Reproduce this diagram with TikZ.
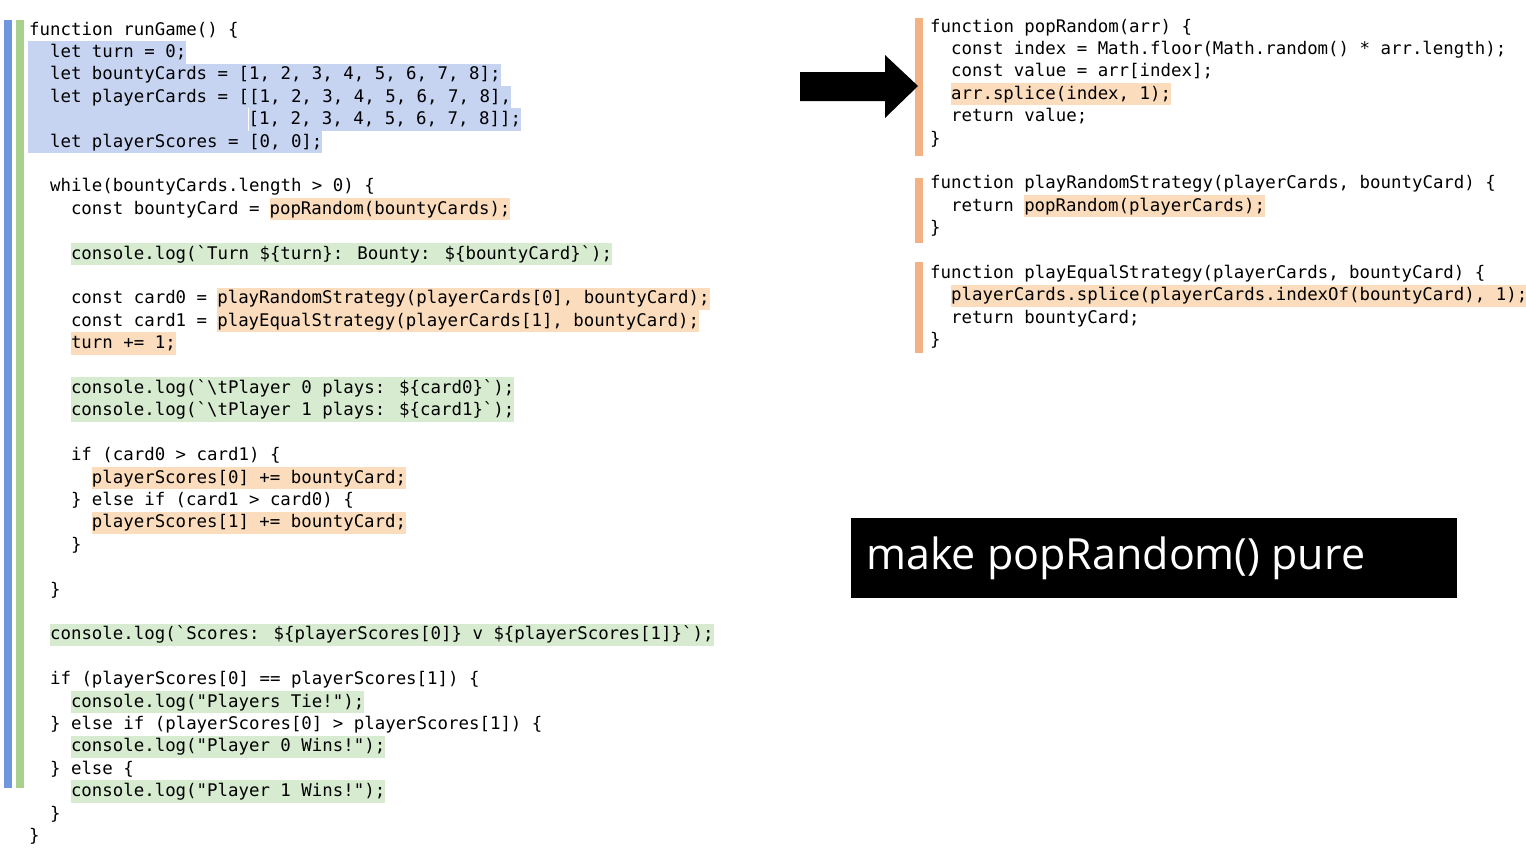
\documentclass[tikz,border=0pt]{standalone}
\usepackage{fontspec}
\newfontfamily\codefont{DejaVu Sans Mono}
\newfontfamily\capfont{Open Sans}
\definecolor{hlblue}{HTML}{C6D4F2}
\definecolor{hlorange}{HTML}{FBDDBE}
\definecolor{hlgreen}{HTML}{D7EBD0}
\definecolor{barblue}{HTML}{6F97E0}
\definecolor{bargreen}{HTML}{A9D18E}
\definecolor{barorange}{HTML}{F4B183}
\tikzset{
  code/.style={anchor=west, inner sep=0pt, text height=16.2pt, text depth=6.2pt,
    font=\codefont\fontsize{17.4}{22}\selectfont},
  blue/.style={code, fill=hlblue},
  orange/.style={code, fill=hlorange},
  green/.style={code, fill=hlgreen},
  lines/.style={x=10.45pt, y=-22.4pt}
}
\begin{document}
\begin{tikzpicture}[x=1pt, y=-1pt]
  \useasboundingbox[fill=white] (0,0) rectangle (1526,857);
  % bars
  \fill[barblue] (4,20) rectangle (12,788);
  \fill[bargreen] (16,20) rectangle (24,788);
  \fill[barorange] (915,18) rectangle (923,156);
  \fill[barorange] (915,178) rectangle (923,243);
  \fill[barorange] (915,262) rectangle (923,353);

  % runGame
  \begin{scope}[xshift=29pt, yshift=-30pt, lines]
    \node[code] (l0) at (0,0) {function runGame() \{};
    \node[blue] (l1) at (2,1) {let turn = 0;};
    \node[blue] (l2) at (2,2) {let bountyCards = [1, 2, 3, 4, 5, 6, 7, 8];};
    \node[blue] (l3) at (2,3) {let playerCards = [[1, 2, 3, 4, 5, 6, 7, 8],};
    \node[blue] (l4) at (21,4) {[1, 2, 3, 4, 5, 6, 7, 8]];};
    \node[blue] (l5) at (2,5) {let playerScores = [0, 0];};
    \fill[hlblue] (-0.1,0.5) rectangle (2,5.5);
    \fill[hlblue] (2,3.5) rectangle (21,4.5);
    \node[code] (l7) at (2,7) {while(bountyCards.length > 0) \{};
    \node[code] (l8) at (4,8) {const bountyCard = };
    \node[orange] (l8b) at (23,8) {popRandom(bountyCards);};
    \node[green] (l10) at (4,10) {console.log(`Turn \$\{turn\}: Bounty: \$\{bountyCard\}`);};
    \node[code] (l12) at (4,12) {const card0 = };
    \node[orange] (l12b) at (18,12) {playRandomStrategy(playerCards[0], bountyCard);};
    \node[code] (l13) at (4,13) {const card1 = };
    \node[orange] (l13b) at (18,13) {playEqualStrategy(playerCards[1], bountyCard);};
    \node[orange] (l14) at (4,14) {turn += 1;};
    \node[green] (l16) at (4,16) {console.log(`\textbackslash tPlayer 0 plays: \$\{card0\}`);};
    \node[green] (l17) at (4,17) {console.log(`\textbackslash tPlayer 1 plays: \$\{card1\}`);};
    \node[code] (l19) at (4,19) {if (card0 > card1) \{};
    \node[orange] (l20) at (6,20) {playerScores[0] += bountyCard;};
    \node[code] (l21) at (4,21) {\} else if (card1 > card0) \{};
    \node[orange] (l22) at (6,22) {playerScores[1] += bountyCard;};
    \node[code] (l23) at (4,23) {\}};
    \node[code] (l25) at (2,25) {\}};
    \node[green] (l27) at (2,27) {console.log(`Scores: \$\{playerScores[0]\} v \$\{playerScores[1]\}`);};
    \node[code] (l29) at (2,29) {if (playerScores[0] == playerScores[1]) \{};
    \node[green] (l30) at (4,30) {console.log("Players Tie!");};
    \node[code] (l31) at (2,31) {\} else if (playerScores[0] > playerScores[1]) \{};
    \node[green] (l32) at (4,32) {console.log("Player 0 Wins!");};
    \node[code] (l33) at (2,33) {\} else \{};
    \node[green] (l34) at (4,34) {console.log("Player 1 Wins!");};
    \node[code] (l35) at (2,35) {\}};
    \node[code] (l36) at (0,36) {\}};
  \end{scope}

  % helpers
  \begin{scope}[xshift=930pt, yshift=-27pt, lines]
    \node[code] (r0) at (0,0) {function popRandom(arr) \{};
    \node[code] (r1) at (2,1) {const index = Math.floor(Math.random() * arr.length);};
    \node[code] (r2) at (2,2) {const value = arr[index];};
    \node[orange] (r3) at (2,3) {arr.splice(index, 1);};
    \node[code] (r4) at (2,4) {return value;};
    \node[code] (r5) at (0,5) {\}};
    \node[code] (r7) at (0,7) {function playRandomStrategy(playerCards, bountyCard) \{};
    \node[code] (r8) at (2,8) {return };
    \node[orange] (r8b) at (9,8) {popRandom(playerCards);};
    \node[code] (r9) at (0,9) {\}};
    \node[code] (r11) at (0,11) {function playEqualStrategy(playerCards, bountyCard) \{};
    \node[orange] (r12) at (2,12) {playerCards.splice(playerCards.indexOf(bountyCard), 1);};
    \node[code] (r13) at (2,13) {return bountyCard;};
    \node[code] (r14) at (0,14) {\}};
  \end{scope}

  % arrow
  \fill[black] (800,72) -- (885,72) -- (885,55) -- (918,86) -- (885,118)
    -- (885,101) -- (800,101) -- cycle;

  % caption
  \node[fill=black, text=white, minimum width=606pt, minimum height=80pt,
    font=\capfont\fontsize{44}{50}\selectfont, anchor=north west, inner sep=0pt]
    (caption) at (851,518) {};
  \node[text=white, anchor=west, inner sep=0pt, font=\capfont\fontsize{43}{50}\selectfont]
    (captext) at (866,558) {make popRandom() pure};
\end{tikzpicture}
\end{document}
